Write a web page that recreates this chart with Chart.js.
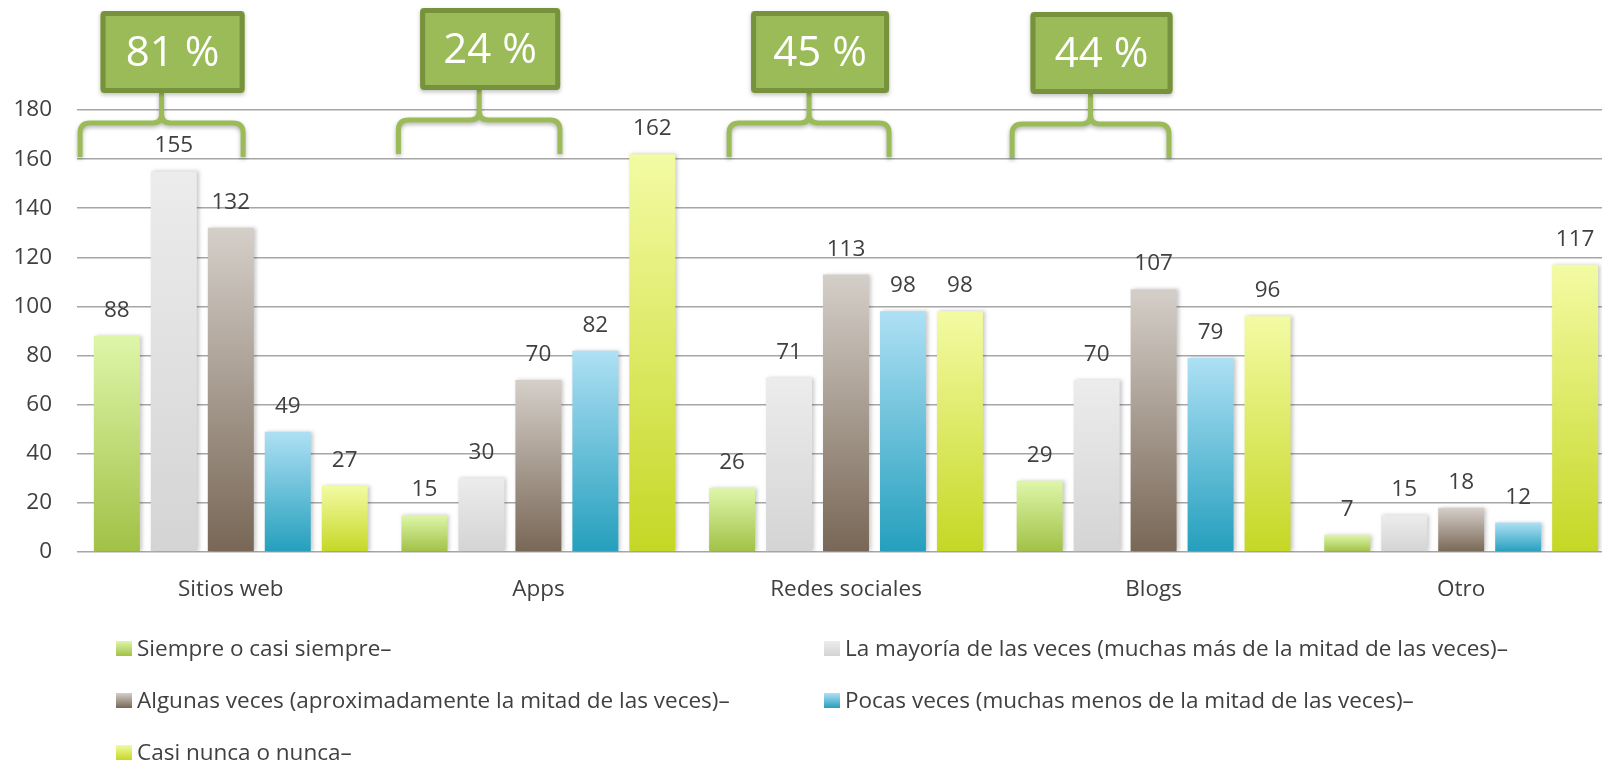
<!DOCTYPE html>
<html>
<head>
<meta charset="utf-8">
<script src="https://cdn.jsdelivr.net/npm/chart.js@4.4.0/dist/chart.umd.min.js"></script>
<style>
  html, body { margin: 0; padding: 0; background: #ffffff; overflow: hidden; }
  #wrap { width: 1620px; height: 766px; }
</style>
</head>
<body>
<div id="wrap"><canvas id="chart" width="1620" height="766"></canvas></div>
<script>
const categories = ["Sitios web", "Apps", "Redes sociales", "Blogs", "Otro"];
const seriesLabels = [
  "Siempre o casi siempre–",
  "La mayoría de las veces (muchas más de la mitad de las veces)–",
  "Algunas veces (aproximadamente la mitad de las veces)–",
  "Pocas veces (muchas menos de la mitad de las veces)–",
  "Casi nunca o nunca–"
];
const siempre = [88, 15, 26, 29, 7];
const mayoria = [155, 30, 71, 70, 15];
const algunas = [132, 70, 113, 107, 18];
const pocas = [49, 82, 98, 79, 12];
const casiNunca = [27, 162, 98, 96, 117];
const yTicks = [0, 20, 40, 60, 80, 100, 120, 140, 160, 180];
const calloutLabels = ["81 %", "24 %", "45 %", "44 %"];

const FONT = "'Open Sans', 'Liberation Sans', sans-serif";
const TEXT = "#404040";

// top / bottom colours of each series gradient
const gradients = [
  ["#def6a9", "#a1c146"],
  ["#ececec", "#d4d4d4"],
  ["#d5cfc9", "#786756"],
  ["#aee0f4", "#249fbd"],
  ["#f3fba3", "#c5d725"]
];

function barFill(index) {
  return (ctx) => {
    const [c0, c1] = gradients[index];
    const chart = ctx.chart;
    const y = chart.scales.y;
    if (ctx.type !== "data" || !y || !chart.chartArea) return c1;
    const top = y.getPixelForValue(ctx.raw);
    const base = y.getPixelForValue(0);
    if (!Number.isFinite(top) || !Number.isFinite(base) || top === base) return c1;
    const g = chart.ctx.createLinearGradient(0, top, 0, base);
    g.addColorStop(0, c0);
    g.addColorStop(1, c1);
    return g;
  };
}

const allSeries = [siempre, mayoria, algunas, pocas, casiNunca];

const barShadow = {
  id: "barShadow",
  beforeDatasetDraw(chart) {
    const c = chart.ctx;
    c.save();
    c.shadowColor = "rgba(0, 0, 0, 0.22)";
    c.shadowBlur = 4;
    c.shadowOffsetX = 2;
    c.shadowOffsetY = 0;
  },
  afterDatasetDraw(chart) {
    chart.ctx.restore();
  }
};

const valueLabels = {
  id: "valueLabels",
  afterDatasetsDraw(chart) {
    const c = chart.ctx;
    c.save();
    c.font = `22.5px ${FONT}`;
    c.fillStyle = TEXT;
    c.textAlign = "center";
    c.textBaseline = "alphabetic";
    chart.data.datasets.forEach((ds, i) => {
      chart.getDatasetMeta(i).data.forEach((bar, j) => {
        c.fillText(String(ds.data[j]), bar.x, bar.y - 19);
      });
    });
    c.restore();
  }
};

// callout boxes + braces, spans in category units relative to each category
const calloutSpans = [[-0.49, 0.04], [-0.455, 0.07], [-0.38, 0.14], [-0.46, 0.05]];
const calloutWidths = [144, 140, 138, 142];
const calloutShift = [0, -3, 0, 1];

const callouts = {
  id: "callouts",
  afterDraw(chart) {
    const c = chart.ctx;
    const x = chart.scales.x;
    const top = chart.chartArea.top;
    calloutLabels.forEach((label, i) => {
      const xs = x.getPixelForValue(i + calloutSpans[i][0]);
      const xe = x.getPixelForValue(i + calloutSpans[i][1]);
      const xm = (xs + xe) / 2;
      const dy = calloutShift[i];
      const yt = top + 13 + dy;
      const yb = top + 47 + dy;
      const boxTop = top - 99 + dy;
      const boxBottom = top - 17 + dy;
      const r = 10;
      const r2 = 9;

      c.save();
      c.shadowColor = "rgba(0, 0, 0, 0.3)";
      c.shadowBlur = 4;
      c.shadowOffsetY = 2;
      c.strokeStyle = "#9bbb59";
      c.lineWidth = 5;
      c.lineJoin = "round";
      c.beginPath();
      c.moveTo(xs, yb);
      c.lineTo(xs, yt + r);
      c.quadraticCurveTo(xs, yt, xs + r, yt);
      c.lineTo(xm - r2, yt);
      c.quadraticCurveTo(xm, yt, xm, yt - r2);
      c.lineTo(xm, boxBottom);
      c.moveTo(xm, yt - r2);
      c.quadraticCurveTo(xm, yt, xm + r2, yt);
      c.lineTo(xe - r, yt);
      c.quadraticCurveTo(xe, yt, xe, yt + r);
      c.lineTo(xe, yb);
      c.stroke();
      c.restore();

      const w = calloutWidths[i];
      const bx = xm + 11 - w / 2;
      const h = boxBottom - boxTop;
      c.save();
      c.shadowColor = "rgba(0, 0, 0, 0.25)";
      c.shadowBlur = 4;
      c.shadowOffsetY = 2;
      c.fillStyle = "#9bbb59";
      c.beginPath();
      c.roundRect(bx, boxTop, w, h, 3);
      c.fill();
      c.restore();
      c.save();
      c.strokeStyle = "#76923c";
      c.lineWidth = 5;
      c.beginPath();
      c.roundRect(bx + 2.5, boxTop + 2.5, w - 5, h - 5, 2);
      c.stroke();
      c.fillStyle = "#ffffff";
      c.font = `42px ${FONT}`;
      c.textAlign = "center";
      c.textBaseline = "middle";
      c.fillText(label, bx + w / 2, boxTop + h / 2 + 2);
      c.restore();
    });
  }
};

const legendCols = [116, 824];
const legendRows = [649, 701, 753];

const gridLegend = {
  id: "gridLegend",
  afterDraw(chart) {
    const c = chart.ctx;
    c.save();
    c.font = `22.5px ${FONT}`;
    c.textBaseline = "middle";
    c.textAlign = "left";
    chart.data.datasets.forEach((ds, i) => {
      const col = legendCols[i % 2];
      const row = legendRows[Math.floor(i / 2)];
      const [c0, c1] = gradients[i];
      const g = c.createLinearGradient(0, row - 8, 0, row + 7);
      g.addColorStop(0, c0);
      g.addColorStop(1, c1);
      c.fillStyle = g;
      c.fillRect(col, row - 8, 16, 15);
      c.fillStyle = TEXT;
      c.fillText(ds.label, col + 21, row + 1);
    });
    c.restore();
  }
};

new Chart(document.getElementById("chart"), {
  type: "bar",
  data: {
    labels: categories,
    datasets: allSeries.map((values, i) => ({
      label: seriesLabels[i],
      data: values,
      backgroundColor: barFill(i),
      borderWidth: 0,
      categoryPercentage: 0.926,
      barPercentage: 0.807
    }))
  },
  options: {
    responsive: false,
    animation: false,
    devicePixelRatio: 1,
    layout: { padding: { top: 110, left: 0, right: 5, bottom: 154 } },
    plugins: {
      legend: { display: false },
      tooltip: { enabled: false }
    },
    scales: {
      x: {
        grid: { display: false, drawTicks: false },
        border: { display: false },
        ticks: {
          color: TEXT,
          font: { family: FONT, size: 22.5 },
          padding: 24,
          maxRotation: 0
        },
        afterFit: (scale) => { scale.height = 60; }
      },
      y: {
        min: 0,
        max: 180,
        afterBuildTicks: (scale) => { scale.ticks = yTicks.map((v) => ({ value: v })); },
        grid: { color: "#a6a6a6", lineWidth: 1.6, drawTicks: false },
        border: { display: false },
        ticks: {
          color: TEXT,
          font: { family: FONT, size: 22.5 },
          padding: 25
        },
        afterFit: (scale) => { scale.width = 77; }
      }
    }
  },
  plugins: [barShadow, valueLabels, callouts, gridLegend]
});
</script>
</body>
</html>
